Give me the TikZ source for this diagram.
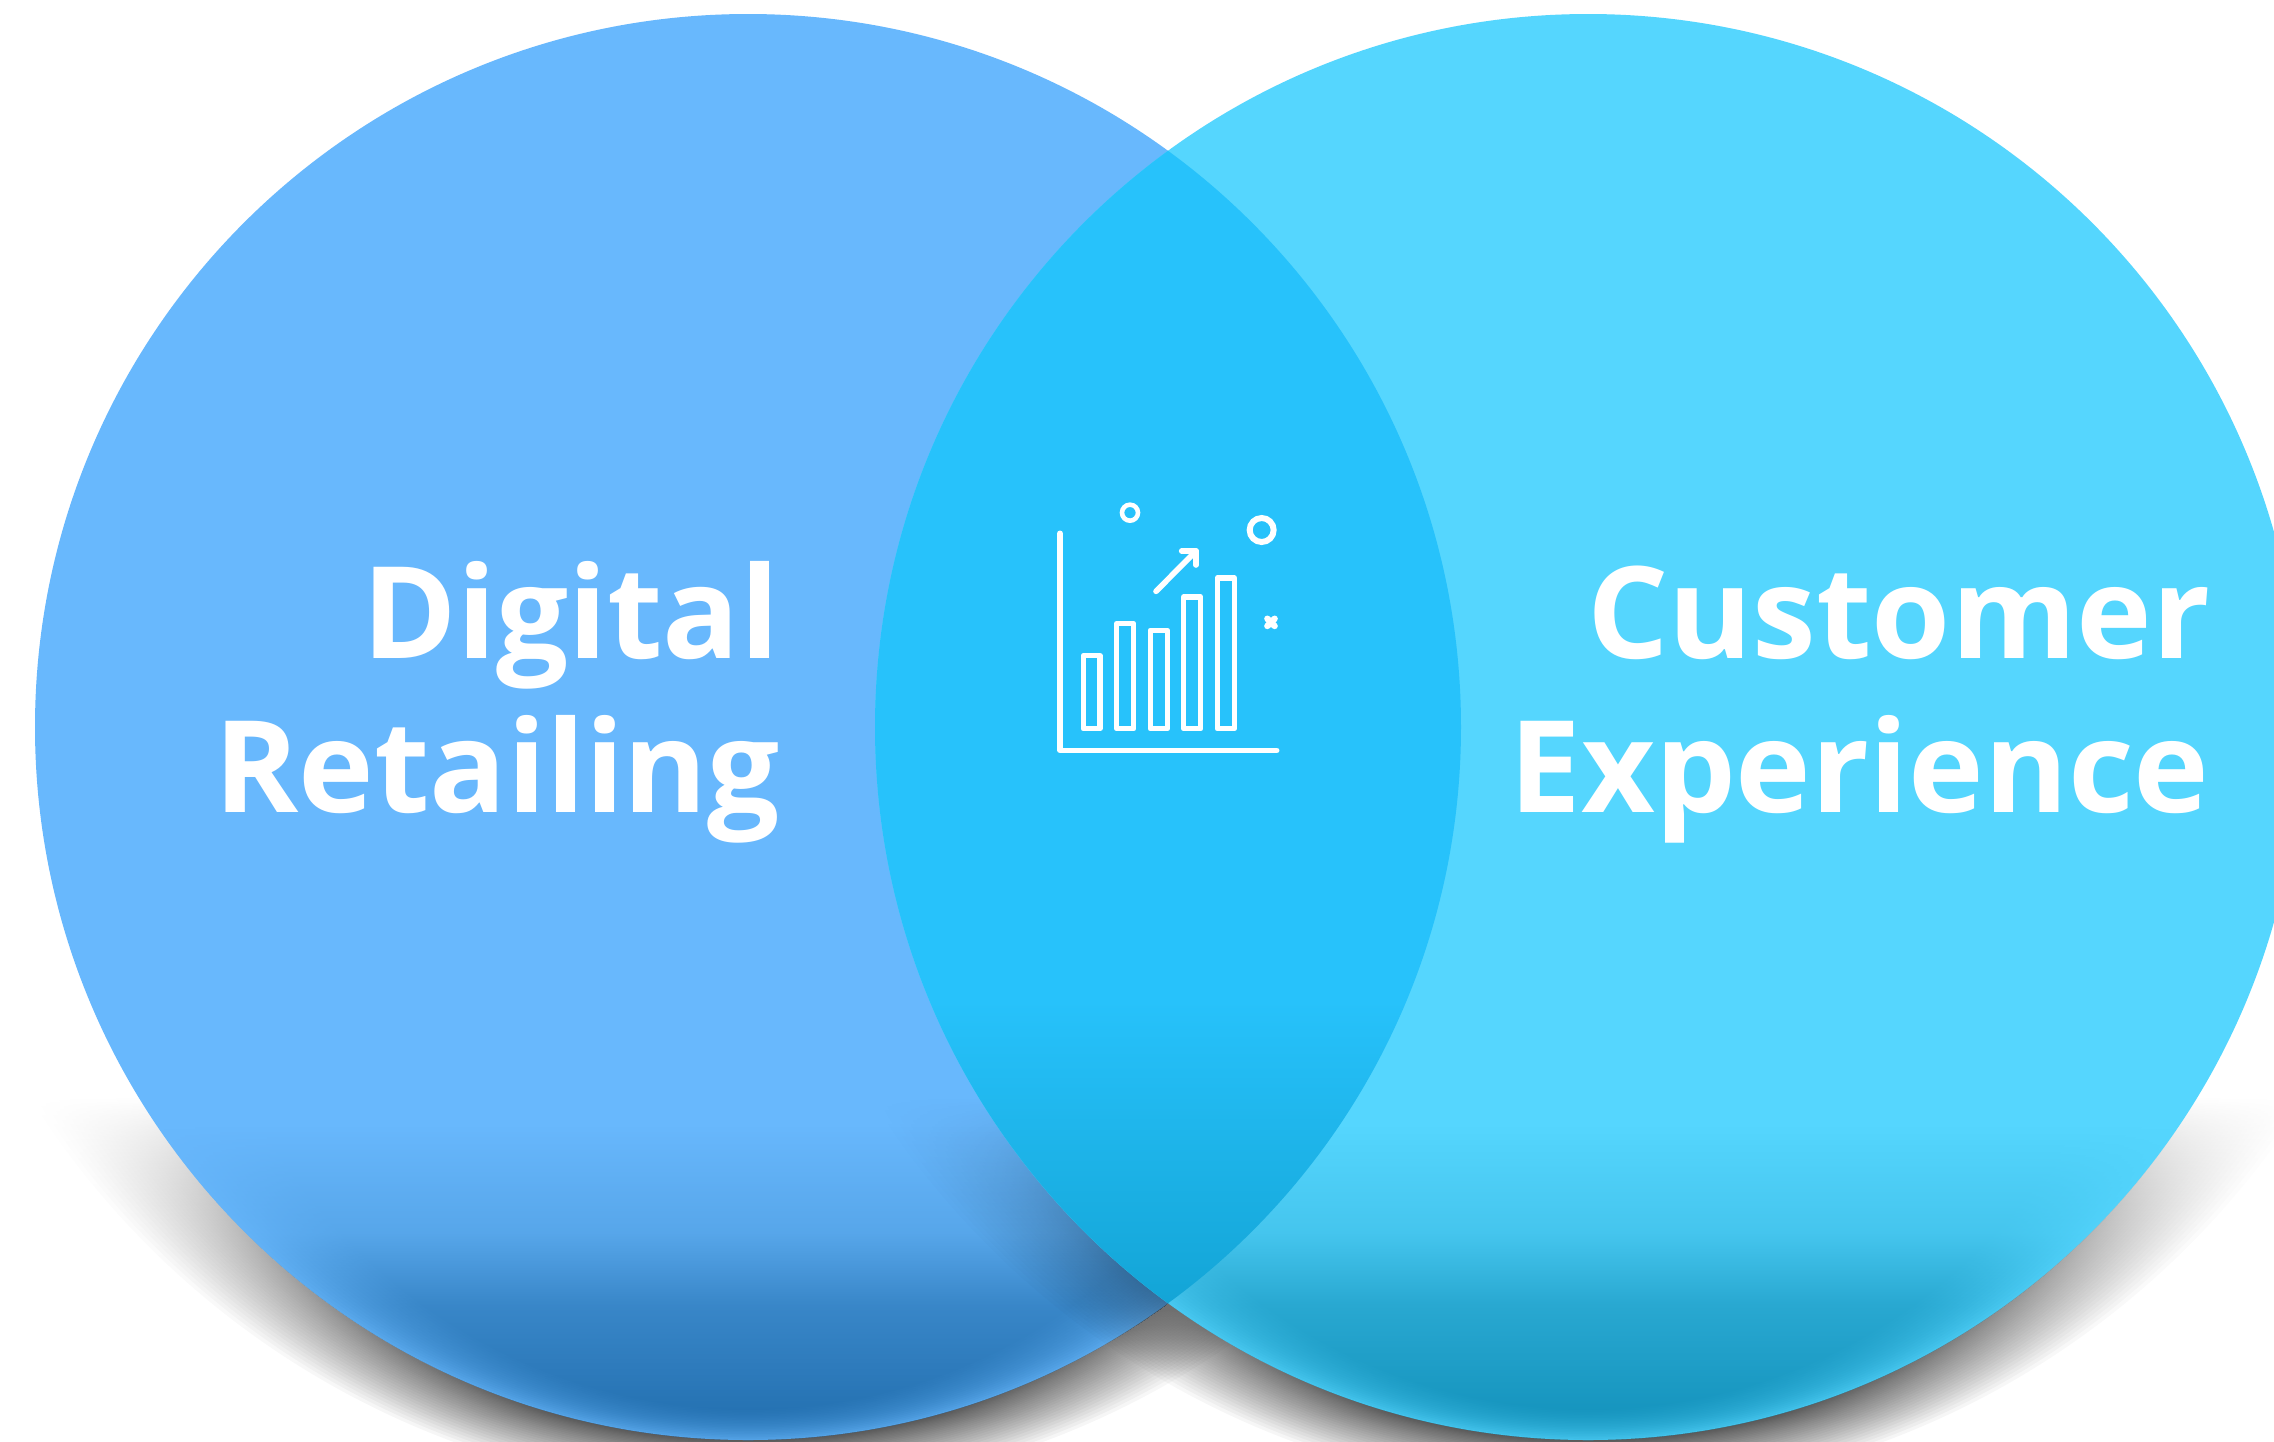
\documentclass[tikz,border=0pt]{standalone}
\usepackage{fontspec}
\setmainfont{Open Sans}
\usetikzlibrary{fadings}
\definecolor{leftblue}{HTML}{68B8FD}
\definecolor{leftdeep}{HTML}{14609F}
\definecolor{rightblue}{HTML}{55D6FE}
\definecolor{rightdeep}{HTML}{0684AE}
\definecolor{lensblue}{HTML}{27C2FB}
\definecolor{lensdeep}{HTML}{12A3D4}
\pgfdeclareverticalshading{shadowramp}{100bp}{color(0bp)=(white); color(26bp)=(white); color(31bp)=(white!55!black); color(37bp)=(black); color(100bp)=(black)}
\pgfdeclarefading{shadowfade}{\pgfuseshading{shadowramp}}
\pgfdeclareverticalshading{darkramp}{100bp}{color(0bp)=(white); color(26bp)=(white); color(27.2bp)=(white!90!black); color(29.8bp)=(white!70!black); color(32.3bp)=(white!25!black); color(36bp)=(black); color(100bp)=(black)}
\pgfdeclarefading{darkfade}{\pgfuseshading{darkramp}}
\tikzset{
    label text/.style={text=white, font=\bfseries\fontsize{36.35}{44}\selectfont, inner sep=0pt},
    icon line/.style={draw=white, line width=1.6pt, line cap=round, line join=round},
}

\begin{document}
\begin{tikzpicture}[x=0.01cm, y=-0.01cm]
        \useasboundingbox (0,0) rectangle (2274,1441);
        \fill[white] (0,0) rectangle (2274,1441);

        % shadows under both circles
        \begin{scope}
            \path[scope fading=shadowfade] (0,0) rectangle (2274,1441);
            \begin{scope}[transparency group]
                \foreach \cx in {748,1588}
                    \foreach \t in {0,...,39}
                        \fill[black, opacity=0.036]
                            (\cx, {727 - 0.6*(145*(\t/39)*(\t/39) - 10)}) circle ({713 + 145*(\t/39)*(\t/39) - 10});
            \end{scope}
        \end{scope}

        % left circle
        \begin{scope}
            \clip (748,727) circle (713);
            \fill[leftblue] (0,0) rectangle (2274,1441);
            \begin{scope}
                \path[scope fading=darkfade] (0,0) rectangle (2274,1441);
                \begin{scope}[transparency group]
                    \foreach \t in {0,...,22}
                        \fill[leftdeep, opacity=0.065]
                            (748, {727 + 0.8*(8*\t - 24)}) circle ({713 - 8*\t + 24});
                \end{scope}
            \end{scope}
            % right circle throws its shadow on the left one
            \begin{scope}
                \path[scope fading=shadowfade] (0,0) rectangle (2274,1441);
                \begin{scope}[transparency group]
                    \foreach \t in {0,...,39}
                        \fill[black, opacity=0.022]
                            (1588, {727 - 0.6*(145*(\t/39)*(\t/39) - 10)}) circle ({713 + 145*(\t/39)*(\t/39) - 10});
                \end{scope}
            \end{scope}
        \end{scope}

        % right circle
        \begin{scope}
            \clip (1588,727) circle (713);
            \fill[rightblue] (0,0) rectangle (2274,1441);
            \begin{scope}
                \path[scope fading=darkfade] (0,0) rectangle (2274,1441);
                \begin{scope}[transparency group]
                    \foreach \t in {0,...,22}
                        \fill[rightdeep, opacity=0.065]
                            (1588, {727 + 0.8*(8*\t - 24)}) circle ({713 - 8*\t + 24});
                \end{scope}
            \end{scope}
        \end{scope}

        % overlap
        \begin{scope}
            \clip (748,727) circle (713);
            \clip (1588,727) circle (713);
            \fill[lensblue] (874,140) rectangle (1462,1000);
            \shade[top color=lensblue, bottom color=lensdeep] (874,1000) rectangle (1462,1320);
        \end{scope}

        \node[label text, anchor=base east] (digital) at (780,658) {Digital};
        \node[label text, anchor=base east] (retailing) at (781,812) {Retailing};
        \node[label text, anchor=base east] (customer) at (2211,658) {Customer};
        \node[label text, anchor=base east] (experience) at (2210,812) {Experience};

        % chart icon
        \begin{scope}[shift={(1030,480)}, x=0.01cm/3, y=-0.01cm/3]
            \draw[icon line] (90,160) -- (90,811) -- (740,811);
            \foreach \xa/\xb/\ytop in {160/210/527, 260/311/431, 361/412/451, 461/512/351, 562/613/294}
                \draw[icon line] (\xa,\ytop) rectangle (\xb,746);
            \draw[icon line] (378,334) -- (498,213);
            \draw[icon line] (455,213) -- (498,213) -- (498,255);
            \draw[draw=white, line width=1.3pt] (300,98) circle (24);
            \draw[draw=white, line width=1.7pt] (695,150) circle (36);
            \draw[draw=white, line width=1.8pt, line cap=round] (712,416) -- (734,438);
            \draw[draw=white, line width=1.8pt, line cap=round] (734,416) -- (712,438);
        \end{scope}
\end{tikzpicture}
\end{document}
